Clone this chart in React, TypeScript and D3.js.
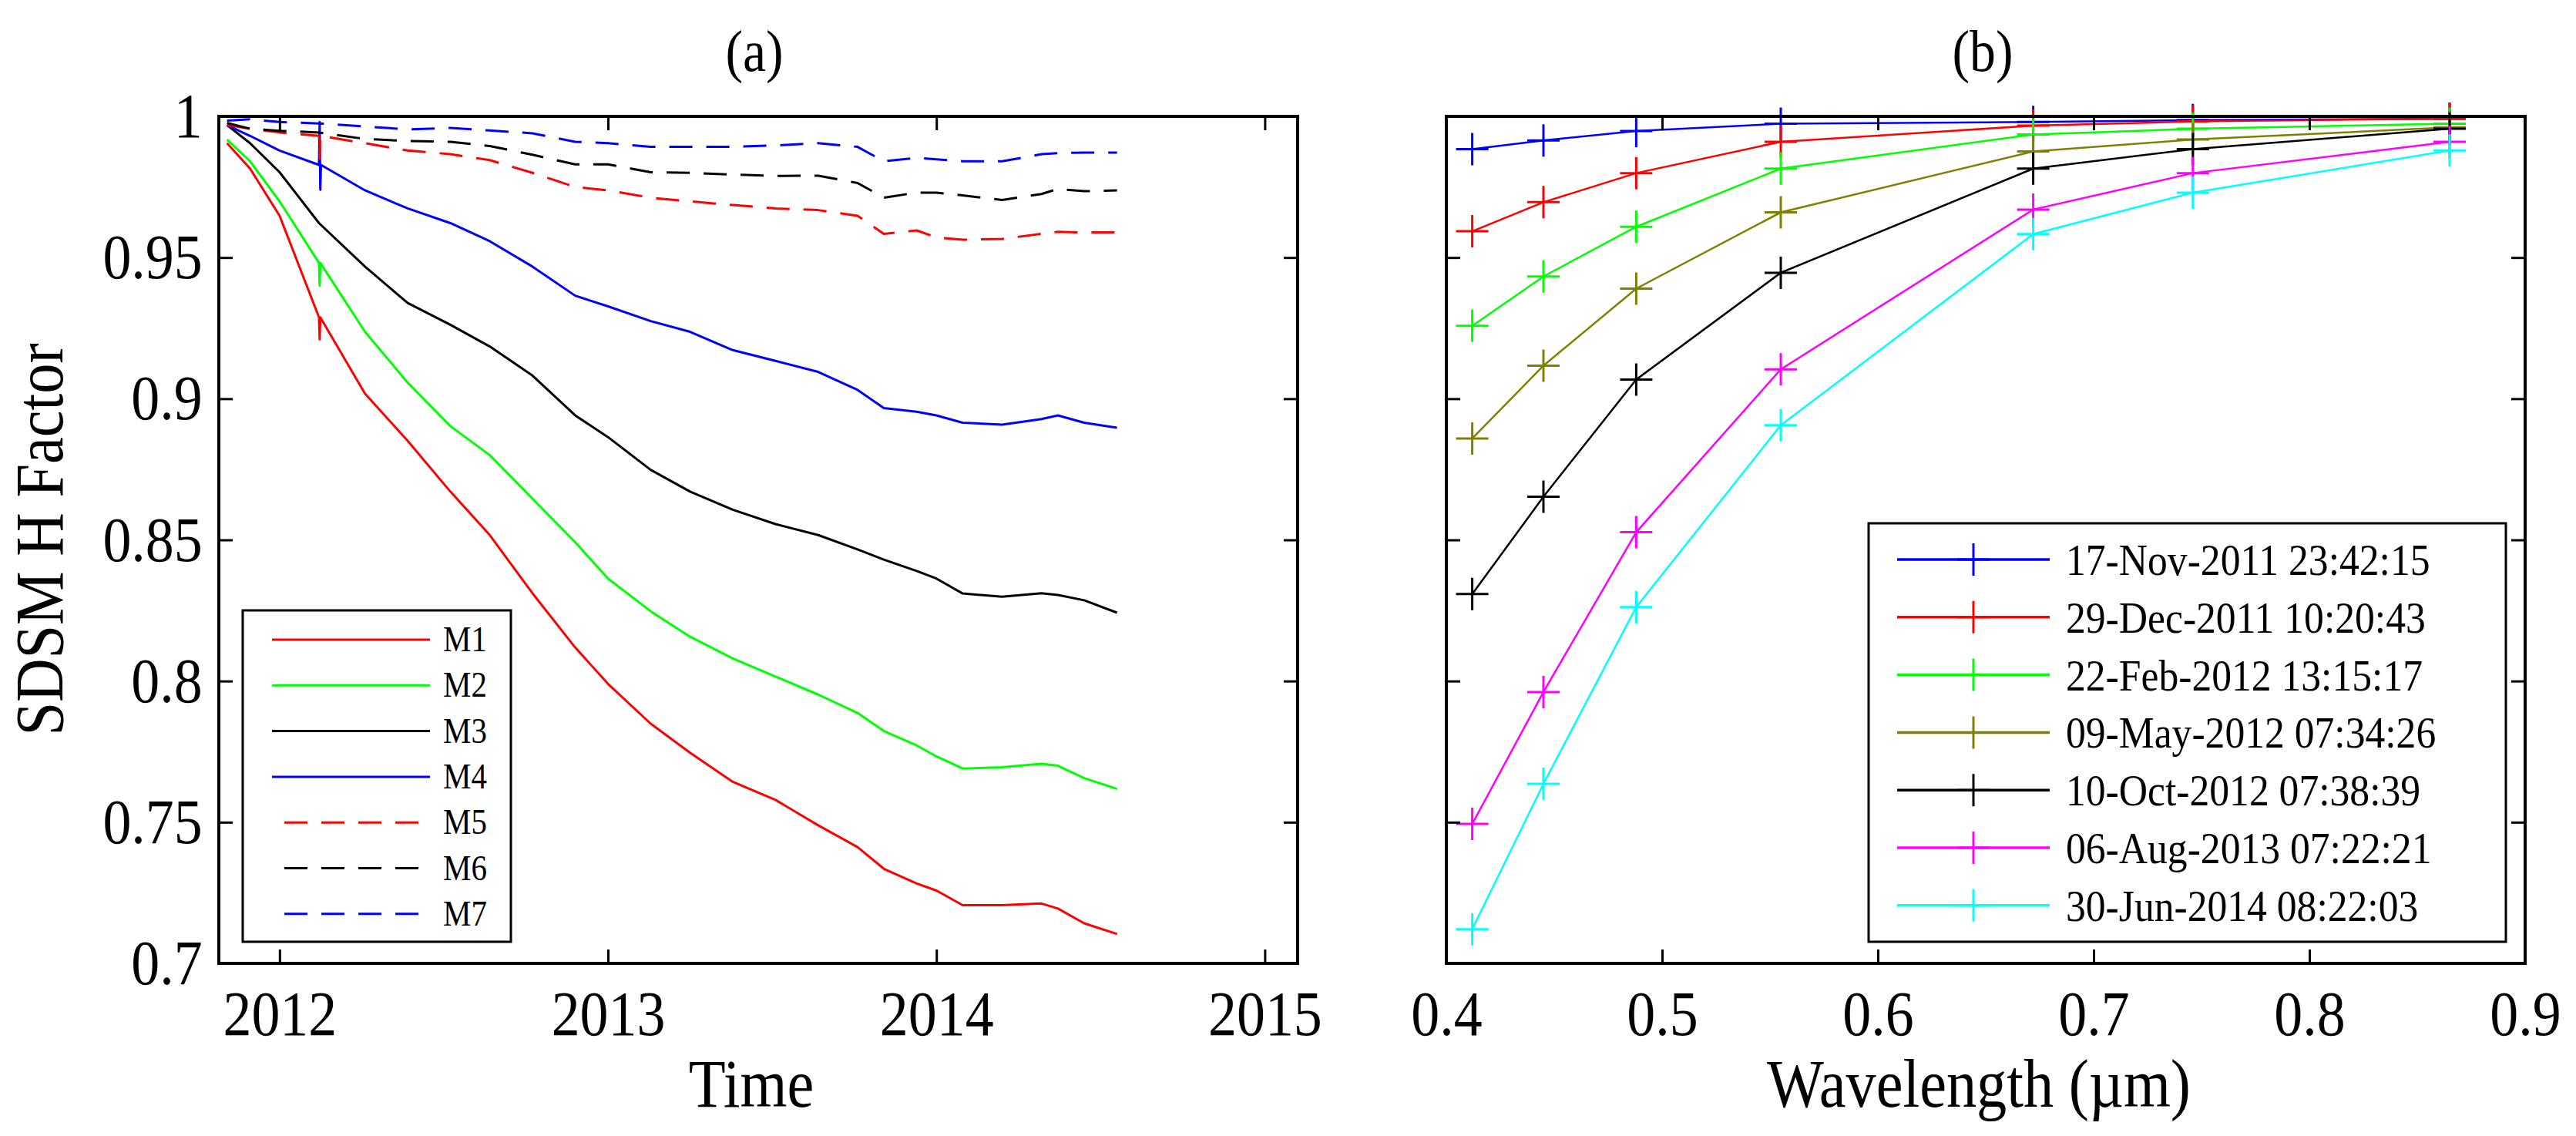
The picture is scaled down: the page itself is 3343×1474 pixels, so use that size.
import React, { useRef, useEffect } from 'react';
import * as d3 from 'd3';

const WIDTH = 3343;
const HEIGHT = 1474;
const FONT = "'Liberation Serif', 'DejaVu Serif', serif";
const SQUEEZE = 0.89; // the original glyphs are a bit narrower than Times

// ---- panel (a): SDSM H factor over time, bands M1..M7 ----
const years = [
  2011.84, 2011.91, 2012.0, 2012.12, 2012.26, 2012.39, 2012.52, 2012.64, 2012.77, 2012.9,
  2013.0, 2013.13, 2013.25, 2013.38, 2013.51, 2013.64, 2013.76, 2013.84, 2013.94, 2014.0,
  2014.08, 2014.2, 2014.32, 2014.37, 2014.45, 2014.55,
];
const m1 = [0.9905, 0.9815, 0.9648, 0.9288, 0.9018, 0.8851, 0.8671, 0.8517, 0.8311, 0.8119, 0.799, 0.7849, 0.7746, 0.7643, 0.7579, 0.7489, 0.7412, 0.7335, 0.7283, 0.7258, 0.7206, 0.7206, 0.7212, 0.7194, 0.7142, 0.7104];
const m2 = [0.9918, 0.9841, 0.9699, 0.9481, 0.9237, 0.9057, 0.8903, 0.88, 0.8646, 0.8492, 0.8363, 0.8247, 0.8157, 0.808, 0.8016, 0.7952, 0.7887, 0.7823, 0.7772, 0.7733, 0.769, 0.7695, 0.7707, 0.77, 0.7656, 0.7618];
const m3 = [0.9969, 0.9905, 0.9802, 0.9622, 0.9468, 0.9339, 0.9262, 0.9185, 0.9082, 0.8941, 0.8864, 0.8748, 0.8671, 0.8607, 0.8556, 0.8517, 0.8466, 0.843, 0.839, 0.8363, 0.831, 0.8299, 0.8311, 0.8305, 0.8286, 0.8242];
const m4 = [0.9969, 0.9931, 0.9879, 0.9828, 0.9738, 0.9674, 0.9622, 0.9558, 0.9468, 0.9365, 0.9327, 0.9275, 0.9237, 0.9172, 0.9134, 0.9095, 0.9031, 0.8967, 0.8954, 0.8941, 0.8915, 0.8908, 0.8928, 0.8941, 0.8915, 0.8897];
const m5 = [0.9969, 0.9956, 0.9943, 0.9931, 0.9905, 0.9879, 0.9866, 0.9845, 0.98, 0.975, 0.9738, 0.9712, 0.9699, 0.9686, 0.9674, 0.9668, 0.9648, 0.9584, 0.9596, 0.9571, 0.9563, 0.9566, 0.9584, 0.9591, 0.9589, 0.9589];
const m6 = [0.9977, 0.9956, 0.9949, 0.9943, 0.992, 0.9913, 0.991, 0.9895, 0.9864, 0.983, 0.983, 0.9802, 0.98, 0.9794, 0.9789, 0.979, 0.9764, 0.9712, 0.973, 0.973, 0.972, 0.9704, 0.9725, 0.9743, 0.9735, 0.9738];
const m7 = [0.9985, 0.999, 0.998, 0.9975, 0.9964, 0.9954, 0.9959, 0.995, 0.994, 0.991, 0.9905, 0.9892, 0.9892, 0.9892, 0.9897, 0.9905, 0.9892, 0.9841, 0.9853, 0.9848, 0.9841, 0.9841, 0.9866, 0.987, 0.9872, 0.9872];

// one bad day early in 2012 shows up as short vertical glitches
const spikeYear = 2012.12;
const spikes = [[0.921], [0.94], [], [0.998, 0.974], [0.985], [], []];

const bandNames = ['M1', 'M2', 'M3', 'M4', 'M5', 'M6', 'M7'];
const bandColors = ['#ff0000', '#00ff00', '#000000', '#0000ff', '#ff0000', '#000000', '#0000ff'];
const bandDashed = [false, false, false, false, true, true, true];
const bandValues = [m1, m2, m3, m4, m5, m6, m7];

const yearTicks = [2012, 2013, 2014, 2015];
const hTicks = [0.7, 0.75, 0.8, 0.85, 0.9, 0.95, 1];

// ---- panel (b): H factor vs wavelength on selected dates ----
const wavelengths = [0.412, 0.445, 0.488, 0.555, 0.672, 0.746, 0.865];
const dateLabels = [
  '17-Nov-2011 23:42:15',
  '29-Dec-2011 10:20:43',
  '22-Feb-2012 13:15:17',
  '09-May-2012 07:34:26',
  '10-Oct-2012 07:38:39',
  '06-Aug-2013 07:22:21',
  '30-Jun-2014 08:22:03',
];
const dateColors = ['#0000ff', '#ff0000', '#00ff00', '#808000', '#000000', '#ff00ff', '#00ffff'];
const nov2011 = [0.9884, 0.9915, 0.9948, 0.9974, 0.998, 0.9987, 0.9992];
const dec2011 = [0.9593, 0.9696, 0.9799, 0.991, 0.9967, 0.9982, 0.9992];
const feb2012 = [0.9258, 0.9433, 0.9609, 0.9815, 0.9936, 0.9956, 0.9974];
const may2012 = [0.8859, 0.9117, 0.939, 0.966, 0.9876, 0.9918, 0.9961];
const oct2012 = [0.8308, 0.8653, 0.9068, 0.9446, 0.9815, 0.9884, 0.9956];
const aug2013 = [0.7494, 0.7961, 0.8527, 0.9104, 0.967, 0.9799, 0.991];
const jun2014 = [0.7121, 0.7636, 0.8262, 0.8906, 0.9583, 0.973, 0.9879];
const dateValues = [nov2011, dec2011, feb2012, may2012, oct2012, aug2013, jun2014];

const waveTicks = [0.4, 0.5, 0.6, 0.7, 0.8, 0.9];

const App: React.FC = () => {
  const svgRef = useRef<SVGSVGElement | null>(null);

  useEffect(() => {
    const svg = d3.select(svgRef.current);
    svg.selectAll('*').remove();
    svg.append('rect').attr('width', WIDTH).attr('height', HEIGHT).attr('fill', '#fff');

    const top = 151;
    const bottom = 1250;
    const y = d3.scaleLinear().domain([0.7, 1]).range([bottom, top]);
    const xa = d3.scaleLinear().domain([2011.815, 2015.1]).range([284, 1684]);
    const xb = d3.scaleLinear().domain([0.4, 0.9]).range([1877, 3277]);

    const label = (x: number, yy: number, txt: string, size: number, anchor = 'middle', rot = 0) =>
      svg.append('text')
        .attr('transform', `translate(${x},${yy}) rotate(${rot}) scale(${SQUEEZE},1)`)
        .attr('text-anchor', anchor)
        .style('font-size', `${size}px`)
        .style('font-family', FONT)
        .attr('fill', '#000')
        .text(txt);

    const styleAxis = (s: any) => {
      s.select('.domain').remove();
      s.attr('font-family', null).attr('font-size', null);
      s.selectAll('line').attr('stroke', '#000').attr('stroke-width', 3);
      s.selectAll('text')
        .style('font-size', '83px')
        .style('font-family', FONT)
        .attr('fill', '#000')
        .attr('transform', `scale(${SQUEEZE},1)`);
    };

    // MATLAB-style box with inward ticks on all four sides
    const drawAxes = (x: d3.ScaleLinear<number, number>, xTicks: number[], showYLabels: boolean) => {
      const [x0, x1] = x.range();
      const g = svg.append('g');
      g.append('g')
        .attr('transform', `translate(0,${bottom})`)
        .call(d3.axisBottom(x).tickValues(xTicks).tickSize(-18).tickSizeOuter(0).tickPadding(34)
          .tickFormat((d: any) => String(d)))
        .call(styleAxis);
      g.append('g')
        .attr('transform', `translate(0,${top})`)
        .call(d3.axisTop(x).tickValues(xTicks).tickSize(-18).tickSizeOuter(0).tickFormat(() => ''))
        .call(styleAxis);
      g.append('g')
        .attr('transform', `translate(${x0},0)`)
        .call(d3.axisLeft(y).tickValues(hTicks).tickSize(-18).tickSizeOuter(0).tickPadding(24)
          .tickFormat((d: any) => (showYLabels ? String(+(+d).toFixed(2)) : '')))
        .call(styleAxis);
      g.append('g')
        .attr('transform', `translate(${x1},0)`)
        .call(d3.axisRight(y).tickValues(hTicks).tickSize(-18).tickSizeOuter(0).tickFormat(() => ''))
        .call(styleAxis);
      g.append('rect')
        .attr('x', x0).attr('y', top)
        .attr('width', x1 - x0).attr('height', bottom - top)
        .attr('fill', 'none').attr('stroke', '#000').attr('stroke-width', 4);
    };

    // ---- (a) ----
    const lineA = d3.line<[number, number]>().x(d => xa(d[0])).y(d => y(d[1]));
    bandValues.forEach((vals, i) => {
      const pts: [number, number][] = [];
      years.forEach((t, k) => {
        pts.push([t, vals[k]]);
        if (t === spikeYear && spikes[i].length) {
          spikes[i].forEach((s, j) => pts.push([t + 0.002 * (j + 1), s]));
          pts.push([t + 0.002 * (spikes[i].length + 1), vals[k]]);
        }
      });
      svg.append('path')
        .attr('d', lineA(pts))
        .attr('fill', 'none')
        .attr('stroke', bandColors[i])
        .attr('stroke-width', 3)
        .attr('stroke-linejoin', 'round')
        .attr('stroke-dasharray', bandDashed[i] ? '30,18' : null);
    });
    drawAxes(xa, yearTicks, true);

    const legA = svg.append('g');
    legA.append('rect')
      .attr('x', 315).attr('y', 792).attr('width', 348).attr('height', 430)
      .attr('fill', '#fff').attr('stroke', '#000').attr('stroke-width', 3);
    bandNames.forEach((name, i) => {
      const ry = 830 + i * 59.3;
      legA.append('line')
        .attr('x1', bandDashed[i] ? 369 : 353).attr('x2', 558)
        .attr('y1', ry).attr('y2', ry)
        .attr('stroke', bandColors[i]).attr('stroke-width', 3)
        .attr('stroke-dasharray', bandDashed[i] ? '30,18' : null);
      legA.append('text')
        .attr('transform', `translate(575,${ry + 15}) scale(${SQUEEZE},1)`)
        .style('font-size', '46px').style('font-family', FONT).attr('fill', '#000')
        .text(name);
    });

    label(979, 92, '(a)', 76);
    label(975, 1436, 'Time', 88);
    label(81, 700, 'SDSM H Factor', 88, 'middle', -90);

    // ---- (b) ----
    const lineB = d3.line<number>().x((_, k) => xb(wavelengths[k])).y(d => y(d));
    const plus = 'M-21,0H21M0,-21V21';
    dateValues.forEach((vals, i) => {
      svg.append('path')
        .attr('d', lineB(vals))
        .attr('fill', 'none').attr('stroke', dateColors[i]).attr('stroke-width', 2.5);
      svg.append('g').selectAll('path')
        .data(vals)
        .join('path')
        .attr('transform', (d, k) => `translate(${xb(wavelengths[k])},${y(d)})`)
        .attr('d', plus)
        .attr('stroke', dateColors[i]).attr('stroke-width', 3).attr('fill', 'none');
    });
    drawAxes(xb, waveTicks, false);

    const legB = svg.append('g');
    legB.append('rect')
      .attr('x', 2425).attr('y', 679).attr('width', 827).attr('height', 543)
      .attr('fill', '#fff').attr('stroke', '#000').attr('stroke-width', 3);
    dateLabels.forEach((txt, i) => {
      const ry = 726 + i * 74.8;
      legB.append('line')
        .attr('x1', 2462).attr('x2', 2660).attr('y1', ry).attr('y2', ry)
        .attr('stroke', dateColors[i]).attr('stroke-width', 3.5);
      legB.append('path')
        .attr('transform', `translate(2561,${ry})`)
        .attr('d', plus)
        .attr('stroke', dateColors[i]).attr('stroke-width', 3);
      legB.append('text')
        .attr('transform', `translate(2681,${ry + 20}) scale(${SQUEEZE},1)`)
        .style('font-size', '58px').style('font-family', FONT).attr('fill', '#000')
        .text(txt);
    });

    label(2573, 92, '(b)', 76);
    label(2568, 1436, 'Wavelength (\u00b5m)', 88);
  }, []);

  return (
    <svg
      ref={svgRef}
      width={WIDTH}
      height={HEIGHT}
      style={{ position: 'absolute', left: 0, top: 0, display: 'block' }}
    />
  );
};

export default App;
